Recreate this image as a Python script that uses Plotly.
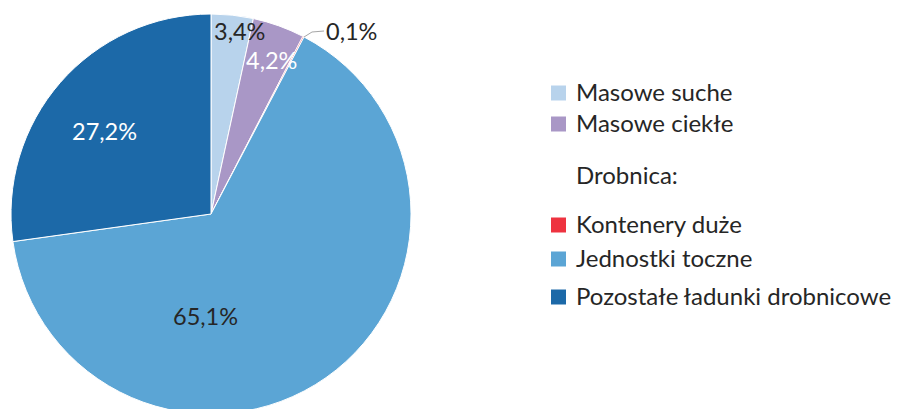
import plotly.graph_objects as go

W, H = 903, 409
OFF = 8  # page body margin in the browser

categories = ["Masowe suche", "Masowe ciekłe", "Kontenery duże",
              "Jednostki toczne", "Pozostałe ładunki drobnicowe"]
shares = [3.4, 4.2, 0.1, 65.1, 27.2]
labels = ["3,4%", "4,2%", "0,1%", "65,1%", "27,2%"]
colors = ["#B8D3EC", "#A997C6", "#EE3340", "#5BA5D5", "#1C69A8"]
label_colors = ["#262626", "#FFFFFF", "#262626", "#262626", "#FFFFFF"]
# label centres in screen pixels
label_pos = [(240, 31), (271, 60), (351, 31), (205, 316), (104, 131)]

FONT = "Lato"


def px_x(x):
    return (x - OFF) / W


def px_y(y):
    return 1 - (y - OFF) / H


cx, cy, r = 211, 214, 200
fig = go.Figure()
fig.add_trace(go.Pie(
    labels=categories,
    values=shares,
    sort=False,
    direction="clockwise",
    rotation=0,
    marker=dict(colors=colors, line=dict(color="white", width=1)),
    textinfo="none",
    hoverinfo="label+percent",
    showlegend=False,
    domain=dict(x=[px_x(cx - r), px_x(cx + r)], y=[px_y(cy + r), px_y(cy - r)]),
))

annotations = []
for txt, col, (x, y) in zip(labels, label_colors, label_pos):
    annotations.append(dict(
        x=px_x(x), y=px_y(y), xref="paper", yref="paper", text=txt,
        showarrow=False, xanchor="center", yanchor="middle",
        font=dict(family=FONT, size=23.5, color=col),
    ))

# leader line for the 0,1% label
shapes = [dict(
    type="path", xref="paper", yref="paper",
    path="M {} {} L {} {} L {} {}".format(px_x(304), px_y(37), px_x(312), px_y(32),
                                          px_x(324), px_y(31)),
    line=dict(color="#A6A6A6", width=1),
)]

# legend
legend_rows = [(categories[0], colors[0], 93), (categories[1], colors[1], 124),
               ("Drobnica:", None, 176), (categories[2], colors[2], 225),
               (categories[3], colors[3], 259), (categories[4], colors[4], 297)]
for name, col, y in legend_rows:
    if col:
        shapes.append(dict(
            type="rect", xref="paper", yref="paper",
            x0=px_x(551), x1=px_x(566), y0=px_y(y + 7.5), y1=px_y(y - 7.5),
            fillcolor=col, line=dict(width=0),
        ))
    annotations.append(dict(
        x=px_x(574), y=px_y(y - 1.5), xref="paper", yref="paper", text=name,
        showarrow=False, xanchor="left", yanchor="middle",
        font=dict(family=FONT, size=24, color="#262626"),
    ))

fig.update_layout(
    width=W, height=H,
    margin=dict(l=0, r=0, t=0, b=0),
    paper_bgcolor="white",
    plot_bgcolor="white",
    annotations=annotations,
    shapes=shapes,
)

fig.write_html("out.html")
